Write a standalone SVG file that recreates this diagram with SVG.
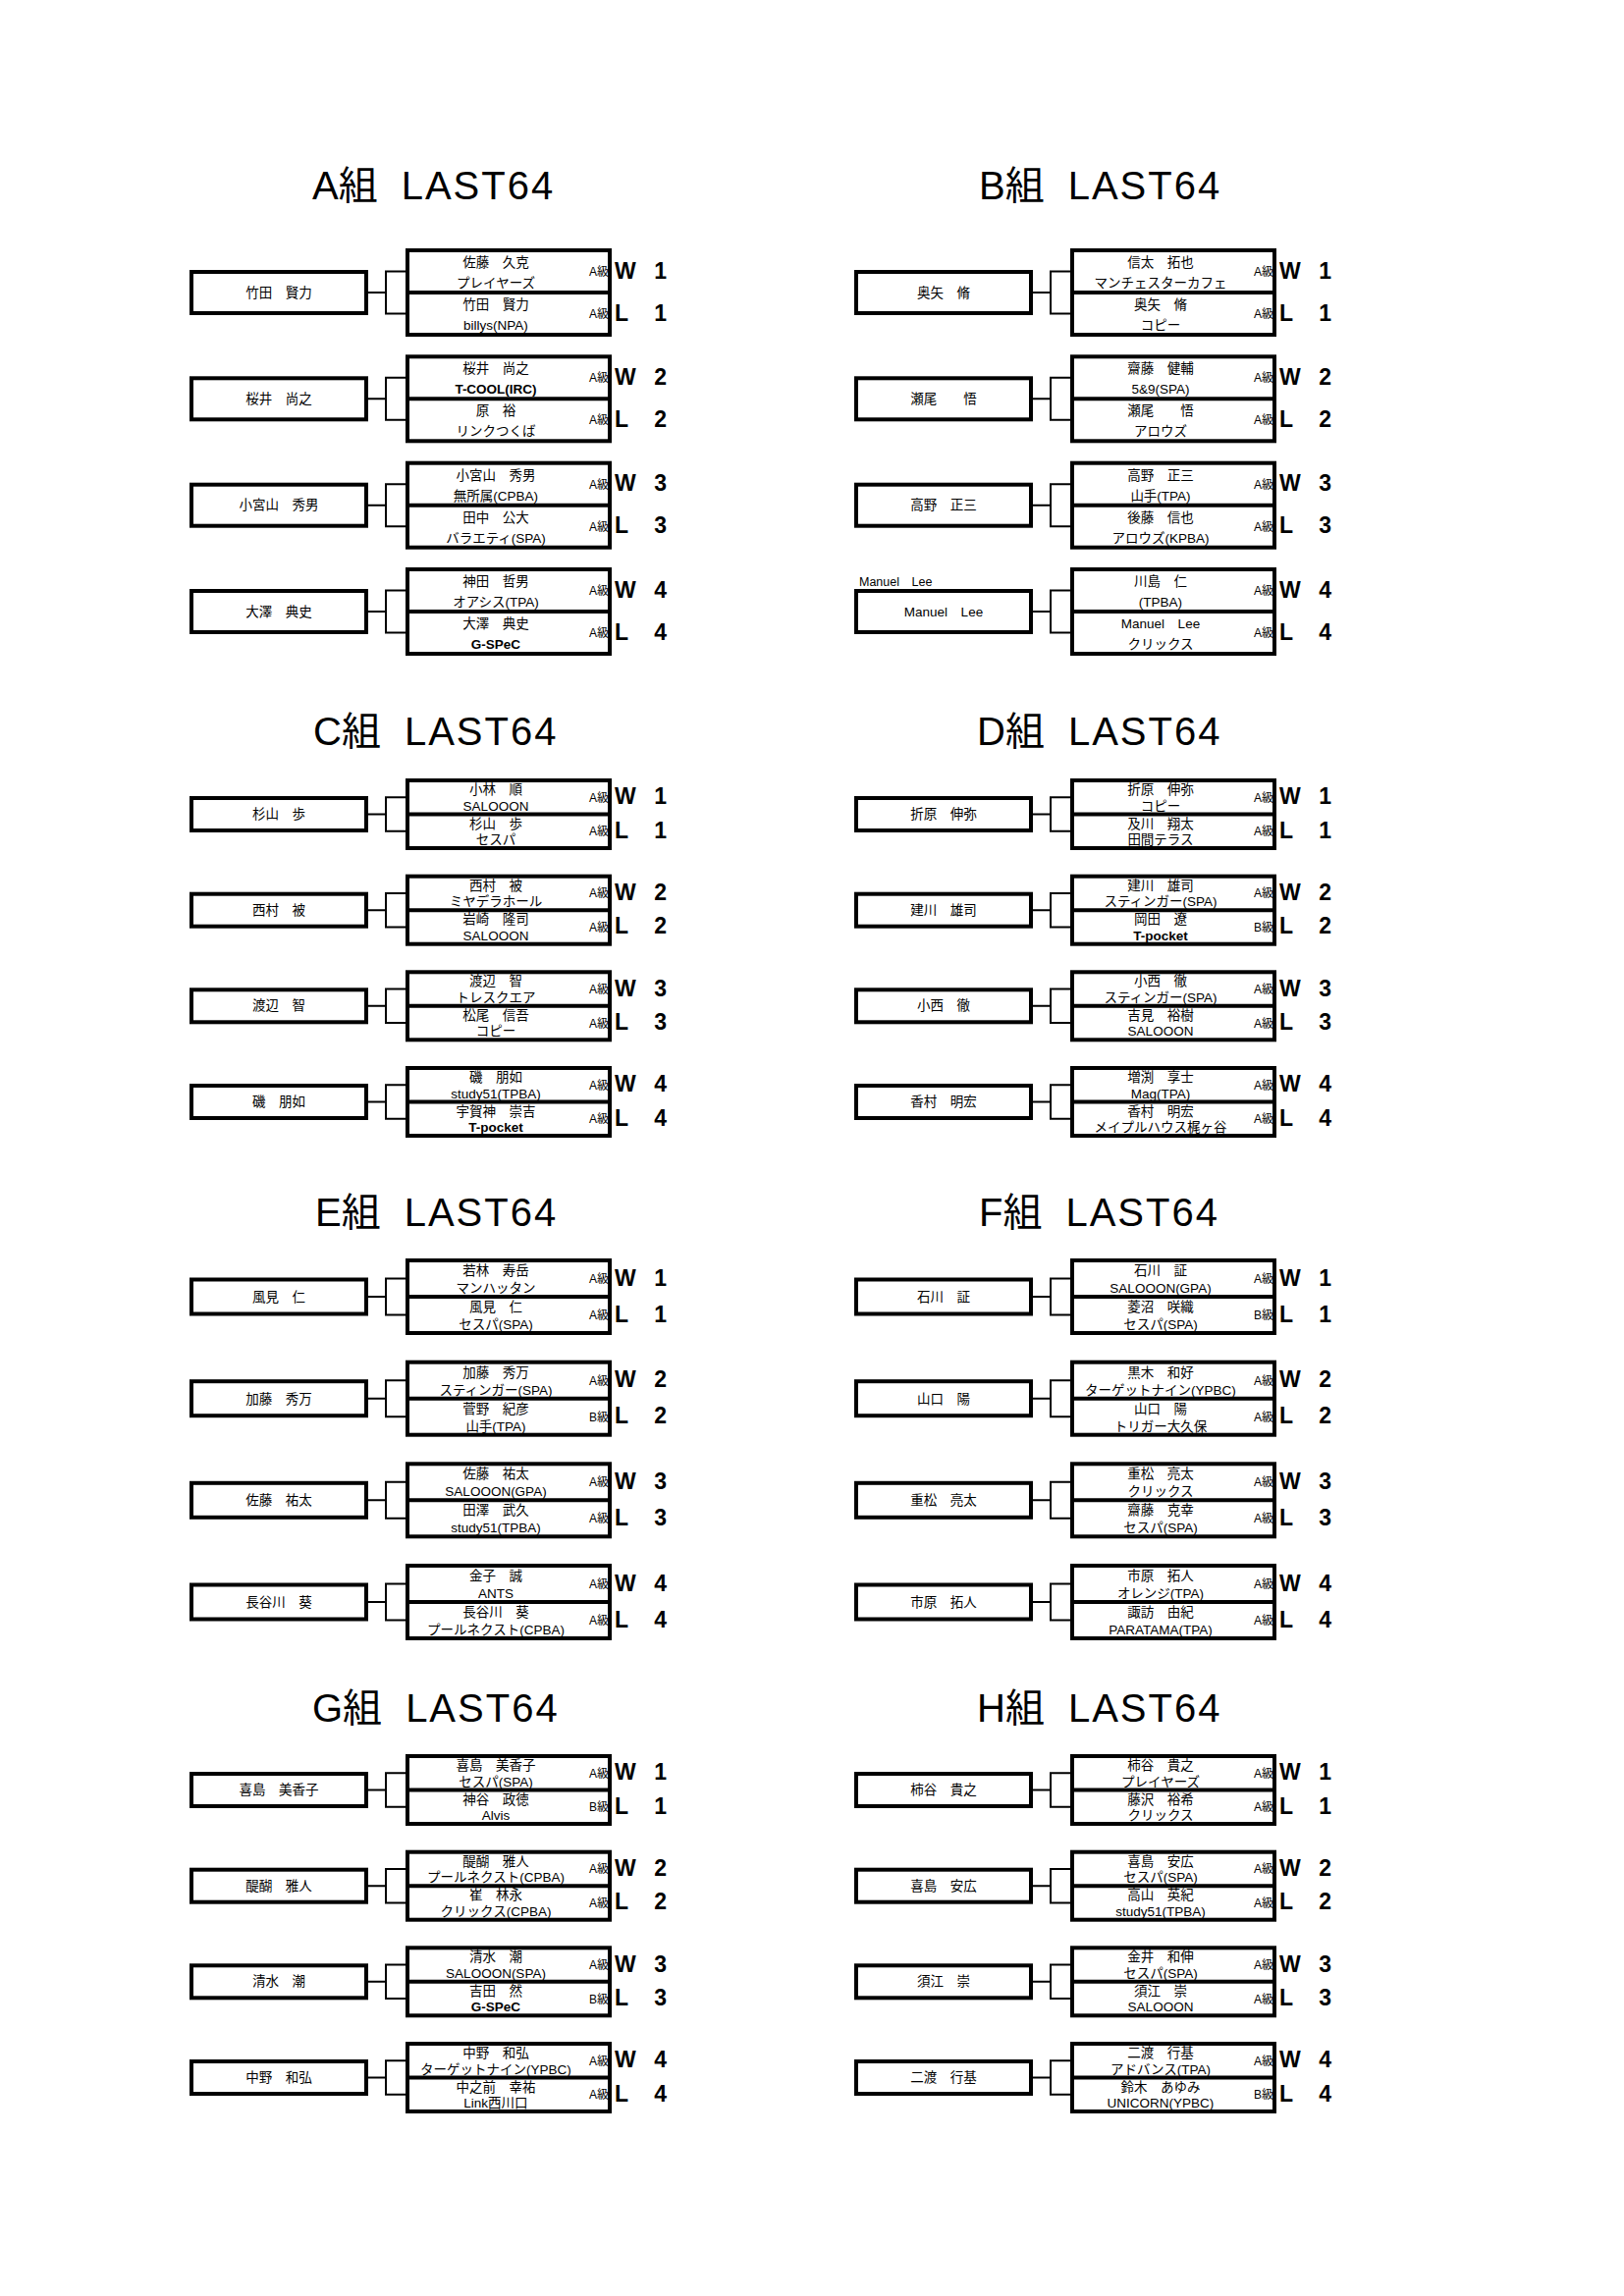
<svg xmlns="http://www.w3.org/2000/svg" width="1654" height="2339" viewBox="0 0 1654 2339">
<style>
.bx{fill:none;stroke:#000;stroke-width:4}
.cn{fill:none;stroke:#000;stroke-width:2}
text{font-family:"Liberation Sans","Noto Sans CJK JP",sans-serif;fill:#000}
.n{font-size:13.5px;text-anchor:middle}
.b{font-weight:bold}
.g{font-size:12px;text-anchor:end}
.w{font-size:23px;font-weight:bold}
.e{text-anchor:end}
.t{font-size:40px}
.sp{font-size:24px}
.ls{letter-spacing:2px}
.m{font-size:12.5px}
</style>
<defs>
<path id="cA" d="M375 43H393M413 21.5H393V64.5H413"/>
<path id="cC" d="M375 34.5H393M413 17.25H393V51.75H413"/>
<path id="cE" d="M375 37H393M413 18.5H393V55.5H413"/>
</defs>
<rect x="0" y="0" width="1654" height="2339" fill="#fff"/>

<g id="titles">
<text class="t" x="318" y="203">A組<tspan class="sp">　</tspan><tspan class="ls">LAST64</tspan></text>
<text class="t" x="997" y="203">B組<tspan class="sp">　</tspan><tspan class="ls">LAST64</tspan></text>
<text class="t" x="319" y="759">C組<tspan class="sp">　</tspan><tspan class="ls">LAST64</tspan></text>
<text class="t" x="995" y="759">D組<tspan class="sp">　</tspan><tspan class="ls">LAST64</tspan></text>
<text class="t" x="321" y="1249">E組<tspan class="sp">　</tspan><tspan class="ls">LAST64</tspan></text>
<text class="t" x="997" y="1249">F組<tspan class="sp">　</tspan><tspan class="ls">LAST64</tspan></text>
<text class="t" x="318" y="1754">G組<tspan class="sp">　</tspan><tspan class="ls">LAST64</tspan></text>
<text class="t" x="995" y="1754">H組<tspan class="sp">　</tspan><tspan class="ls">LAST64</tspan></text>
</g>

<g id="connectors" class="cn">
<use href="#cA" transform="translate(0,255)"/>
<use href="#cA" transform="translate(0,363.3)"/>
<use href="#cA" transform="translate(0,471.7)"/>
<use href="#cA" transform="translate(0,580)"/>
<use href="#cA" transform="translate(677,255)"/>
<use href="#cA" transform="translate(677,363.3)"/>
<use href="#cA" transform="translate(677,471.7)"/>
<use href="#cA" transform="translate(677,580)"/>
<use href="#cC" transform="translate(0,795)"/>
<use href="#cC" transform="translate(0,892.7)"/>
<use href="#cC" transform="translate(0,990.3)"/>
<use href="#cC" transform="translate(0,1088)"/>
<use href="#cC" transform="translate(677,795)"/>
<use href="#cC" transform="translate(677,892.7)"/>
<use href="#cC" transform="translate(677,990.3)"/>
<use href="#cC" transform="translate(677,1088)"/>
<use href="#cE" transform="translate(0,1284)"/>
<use href="#cE" transform="translate(0,1387.7)"/>
<use href="#cE" transform="translate(0,1491.3)"/>
<use href="#cE" transform="translate(0,1595)"/>
<use href="#cE" transform="translate(677,1284)"/>
<use href="#cE" transform="translate(677,1387.7)"/>
<use href="#cE" transform="translate(677,1491.3)"/>
<use href="#cE" transform="translate(677,1595)"/>
<use href="#cC" transform="translate(0,1789)"/>
<use href="#cC" transform="translate(0,1886.7)"/>
<use href="#cC" transform="translate(0,1984.3)"/>
<use href="#cC" transform="translate(0,2082)"/>
<use href="#cC" transform="translate(677,1789)"/>
<use href="#cC" transform="translate(677,1886.7)"/>
<use href="#cC" transform="translate(677,1984.3)"/>
<use href="#cC" transform="translate(677,2082)"/>
</g>

<!-- ===== A ===== -->
<g id="A1-player" transform="translate(0,255)"><text class="n" x="284" y="47.5">竹田　賢力</text><rect class="bx" x="195" y="22" width="178" height="42"/></g>
<g id="A1-match" transform="translate(0,255)">
<text class="n" x="505" y="17">佐藤　久克</text><text class="n" x="505" y="38">プレイヤーズ</text>
<text class="n" x="505" y="60">竹田　賢力</text><text class="n" x="505" y="81">billys(NPA)</text>
<text class="g" x="620" y="26">A級</text><text class="g" x="620" y="69">A級</text>
<text class="w" x="626" y="28.5">W</text><text class="w" x="626" y="71.5">L</text>
<text class="w e" x="679" y="28.5">1</text><text class="w e" x="679" y="71.5">1</text>
<rect class="bx" x="415" y="0" width="206" height="86"/><line class="bx" x1="415" y1="43" x2="621" y2="43"/></g>

<g id="A2-player" transform="translate(0,363.3)"><text class="n" x="284" y="47.5">桜井　尚之</text><rect class="bx" x="195" y="22" width="178" height="42"/></g>
<g id="A2-match" transform="translate(0,363.3)">
<text class="n" x="505" y="17">桜井　尚之</text><text class="n b" x="505" y="38">T-COOL(IRC)</text>
<text class="n" x="505" y="60">原　裕</text><text class="n" x="505" y="81">リンクつくば</text>
<text class="g" x="620" y="26">A級</text><text class="g" x="620" y="69">A級</text>
<text class="w" x="626" y="28.5">W</text><text class="w" x="626" y="71.5">L</text>
<text class="w e" x="679" y="28.5">2</text><text class="w e" x="679" y="71.5">2</text>
<rect class="bx" x="415" y="0" width="206" height="86"/><line class="bx" x1="415" y1="43" x2="621" y2="43"/></g>

<g id="A3-player" transform="translate(0,471.7)"><text class="n" x="284" y="47.5">小宮山　秀男</text><rect class="bx" x="195" y="22" width="178" height="42"/></g>
<g id="A3-match" transform="translate(0,471.7)">
<text class="n" x="505" y="17">小宮山　秀男</text><text class="n" x="505" y="38">無所属(CPBA)</text>
<text class="n" x="505" y="60">田中　公大</text><text class="n" x="505" y="81">バラエティ(SPA)</text>
<text class="g" x="620" y="26">A級</text><text class="g" x="620" y="69">A級</text>
<text class="w" x="626" y="28.5">W</text><text class="w" x="626" y="71.5">L</text>
<text class="w e" x="679" y="28.5">3</text><text class="w e" x="679" y="71.5">3</text>
<rect class="bx" x="415" y="0" width="206" height="86"/><line class="bx" x1="415" y1="43" x2="621" y2="43"/></g>

<g id="A4-player" transform="translate(0,580)"><text class="n" x="284" y="47.5">大澤　典史</text><rect class="bx" x="195" y="22" width="178" height="42"/></g>
<g id="A4-match" transform="translate(0,580)">
<text class="n" x="505" y="17">神田　哲男</text><text class="n" x="505" y="38">オアシス(TPA)</text>
<text class="n" x="505" y="60">大澤　典史</text><text class="n b" x="505" y="81">G-SPeC</text>
<text class="g" x="620" y="26">A級</text><text class="g" x="620" y="69">A級</text>
<text class="w" x="626" y="28.5">W</text><text class="w" x="626" y="71.5">L</text>
<text class="w e" x="679" y="28.5">4</text><text class="w e" x="679" y="71.5">4</text>
<rect class="bx" x="415" y="0" width="206" height="86"/><line class="bx" x1="415" y1="43" x2="621" y2="43"/></g>

<!-- ===== B ===== -->
<g id="B1-player" transform="translate(677,255)"><text class="n" x="284" y="47.5">奥矢　脩</text><rect class="bx" x="195" y="22" width="178" height="42"/></g>
<g id="B1-match" transform="translate(677,255)">
<text class="n" x="505" y="17">信太　拓也</text><text class="n" x="505" y="38">マンチェスターカフェ</text>
<text class="n" x="505" y="60">奥矢　脩</text><text class="n" x="505" y="81">コピー</text>
<text class="g" x="620" y="26">A級</text><text class="g" x="620" y="69">A級</text>
<text class="w" x="626" y="28.5">W</text><text class="w" x="626" y="71.5">L</text>
<text class="w e" x="679" y="28.5">1</text><text class="w e" x="679" y="71.5">1</text>
<rect class="bx" x="415" y="0" width="206" height="86"/><line class="bx" x1="415" y1="43" x2="621" y2="43"/></g>

<g id="B2-player" transform="translate(677,363.3)"><text class="n" x="284" y="47.5">瀬尾　　悟</text><rect class="bx" x="195" y="22" width="178" height="42"/></g>
<g id="B2-match" transform="translate(677,363.3)">
<text class="n" x="505" y="17">齋藤　健輔</text><text class="n" x="505" y="38">5&amp;9(SPA)</text>
<text class="n" x="505" y="60">瀬尾　　悟</text><text class="n" x="505" y="81">アロウズ</text>
<text class="g" x="620" y="26">A級</text><text class="g" x="620" y="69">A級</text>
<text class="w" x="626" y="28.5">W</text><text class="w" x="626" y="71.5">L</text>
<text class="w e" x="679" y="28.5">2</text><text class="w e" x="679" y="71.5">2</text>
<rect class="bx" x="415" y="0" width="206" height="86"/><line class="bx" x1="415" y1="43" x2="621" y2="43"/></g>

<g id="B3-player" transform="translate(677,471.7)"><text class="n" x="284" y="47.5">高野　正三</text><rect class="bx" x="195" y="22" width="178" height="42"/></g>
<g id="B3-match" transform="translate(677,471.7)">
<text class="n" x="505" y="17">高野　正三</text><text class="n" x="505" y="38">山手(TPA)</text>
<text class="n" x="505" y="60">後藤　信也</text><text class="n" x="505" y="81">アロウズ(KPBA)</text>
<text class="g" x="620" y="26">A級</text><text class="g" x="620" y="69">A級</text>
<text class="w" x="626" y="28.5">W</text><text class="w" x="626" y="71.5">L</text>
<text class="w e" x="679" y="28.5">3</text><text class="w e" x="679" y="71.5">3</text>
<rect class="bx" x="415" y="0" width="206" height="86"/><line class="bx" x1="415" y1="43" x2="621" y2="43"/></g>

<g id="B4-player" transform="translate(677,580)"><text class="m" x="198" y="17">Manuel　Lee</text><text class="n" x="284" y="47.5">Manuel　Lee</text><rect class="bx" x="195" y="22" width="178" height="42"/></g>
<g id="B4-match" transform="translate(677,580)">
<text class="n" x="505" y="17">川島　仁</text><text class="n" x="505" y="38">(TPBA)</text>
<text class="n" x="505" y="60">Manuel　Lee</text><text class="n" x="505" y="81">クリックス</text>
<text class="g" x="620" y="26">A級</text><text class="g" x="620" y="69">A級</text>
<text class="w" x="626" y="28.5">W</text><text class="w" x="626" y="71.5">L</text>
<text class="w e" x="679" y="28.5">4</text><text class="w e" x="679" y="71.5">4</text>
<rect class="bx" x="415" y="0" width="206" height="86"/><line class="bx" x1="415" y1="43" x2="621" y2="43"/></g>

<!-- ===== C ===== -->
<g id="C1-player" transform="translate(0,795)"><text class="n" x="284" y="39">杉山　歩</text><rect class="bx" x="195" y="18" width="178" height="33"/></g>
<g id="C1-match" transform="translate(0,795)">
<text class="n" x="505" y="14">小林　順</text><text class="n" x="505" y="30.5">SALOOON</text>
<text class="n" x="505" y="48.5">杉山　歩</text><text class="n" x="505" y="65">セスパ</text>
<text class="g" x="620" y="21.8">A級</text><text class="g" x="620" y="56.3">A級</text>
<text class="w" x="626" y="24.3">W</text><text class="w" x="626" y="58.8">L</text>
<text class="w e" x="679" y="24.3">1</text><text class="w e" x="679" y="58.8">1</text>
<rect class="bx" x="415" y="0" width="206" height="69"/><line class="bx" x1="415" y1="34.5" x2="621" y2="34.5"/></g>

<g id="C2-player" transform="translate(0,892.7)"><text class="n" x="284" y="39">西村　被</text><rect class="bx" x="195" y="18" width="178" height="33"/></g>
<g id="C2-match" transform="translate(0,892.7)">
<text class="n" x="505" y="14">西村　被</text><text class="n" x="505" y="30.5">ミヤデラホール</text>
<text class="n" x="505" y="48.5">岩崎　隆司</text><text class="n" x="505" y="65">SALOOON</text>
<text class="g" x="620" y="21.8">A級</text><text class="g" x="620" y="56.3">A級</text>
<text class="w" x="626" y="24.3">W</text><text class="w" x="626" y="58.8">L</text>
<text class="w e" x="679" y="24.3">2</text><text class="w e" x="679" y="58.8">2</text>
<rect class="bx" x="415" y="0" width="206" height="69"/><line class="bx" x1="415" y1="34.5" x2="621" y2="34.5"/></g>

<g id="C3-player" transform="translate(0,990.3)"><text class="n" x="284" y="39">渡辺　智</text><rect class="bx" x="195" y="18" width="178" height="33"/></g>
<g id="C3-match" transform="translate(0,990.3)">
<text class="n" x="505" y="14">渡辺　智</text><text class="n" x="505" y="30.5">トレスクエア</text>
<text class="n" x="505" y="48.5">松尾　信吾</text><text class="n" x="505" y="65">コピー</text>
<text class="g" x="620" y="21.8">A級</text><text class="g" x="620" y="56.3">A級</text>
<text class="w" x="626" y="24.3">W</text><text class="w" x="626" y="58.8">L</text>
<text class="w e" x="679" y="24.3">3</text><text class="w e" x="679" y="58.8">3</text>
<rect class="bx" x="415" y="0" width="206" height="69"/><line class="bx" x1="415" y1="34.5" x2="621" y2="34.5"/></g>

<g id="C4-player" transform="translate(0,1088)"><text class="n" x="284" y="39">磯　朋如</text><rect class="bx" x="195" y="18" width="178" height="33"/></g>
<g id="C4-match" transform="translate(0,1088)">
<text class="n" x="505" y="14">磯　朋如</text><text class="n" x="505" y="30.5">study51(TPBA)</text>
<text class="n" x="505" y="48.5">宇賀神　崇吉</text><text class="n b" x="505" y="65">T-pocket</text>
<text class="g" x="620" y="21.8">A級</text><text class="g" x="620" y="56.3">A級</text>
<text class="w" x="626" y="24.3">W</text><text class="w" x="626" y="58.8">L</text>
<text class="w e" x="679" y="24.3">4</text><text class="w e" x="679" y="58.8">4</text>
<rect class="bx" x="415" y="0" width="206" height="69"/><line class="bx" x1="415" y1="34.5" x2="621" y2="34.5"/></g>

<!-- ===== D ===== -->
<g id="D1-player" transform="translate(677,795)"><text class="n" x="284" y="39">折原　伸弥</text><rect class="bx" x="195" y="18" width="178" height="33"/></g>
<g id="D1-match" transform="translate(677,795)">
<text class="n" x="505" y="14">折原　伸弥</text><text class="n" x="505" y="30.5">コピー</text>
<text class="n" x="505" y="48.5">及川　翔太</text><text class="n" x="505" y="65">田間テラス</text>
<text class="g" x="620" y="21.8">A級</text><text class="g" x="620" y="56.3">A級</text>
<text class="w" x="626" y="24.3">W</text><text class="w" x="626" y="58.8">L</text>
<text class="w e" x="679" y="24.3">1</text><text class="w e" x="679" y="58.8">1</text>
<rect class="bx" x="415" y="0" width="206" height="69"/><line class="bx" x1="415" y1="34.5" x2="621" y2="34.5"/></g>

<g id="D2-player" transform="translate(677,892.7)"><text class="n" x="284" y="39">建川　雄司</text><rect class="bx" x="195" y="18" width="178" height="33"/></g>
<g id="D2-match" transform="translate(677,892.7)">
<text class="n" x="505" y="14">建川　雄司</text><text class="n" x="505" y="30.5">スティンガー(SPA)</text>
<text class="n" x="505" y="48.5">岡田　遼</text><text class="n b" x="505" y="65">T-pocket</text>
<text class="g" x="620" y="21.8">A級</text><text class="g" x="620" y="56.3">B級</text>
<text class="w" x="626" y="24.3">W</text><text class="w" x="626" y="58.8">L</text>
<text class="w e" x="679" y="24.3">2</text><text class="w e" x="679" y="58.8">2</text>
<rect class="bx" x="415" y="0" width="206" height="69"/><line class="bx" x1="415" y1="34.5" x2="621" y2="34.5"/></g>

<g id="D3-player" transform="translate(677,990.3)"><text class="n" x="284" y="39">小西　徹</text><rect class="bx" x="195" y="18" width="178" height="33"/></g>
<g id="D3-match" transform="translate(677,990.3)">
<text class="n" x="505" y="14">小西　徹</text><text class="n" x="505" y="30.5">スティンガー(SPA)</text>
<text class="n" x="505" y="48.5">吉見　裕樹</text><text class="n" x="505" y="65">SALOOON</text>
<text class="g" x="620" y="21.8">A級</text><text class="g" x="620" y="56.3">A級</text>
<text class="w" x="626" y="24.3">W</text><text class="w" x="626" y="58.8">L</text>
<text class="w e" x="679" y="24.3">3</text><text class="w e" x="679" y="58.8">3</text>
<rect class="bx" x="415" y="0" width="206" height="69"/><line class="bx" x1="415" y1="34.5" x2="621" y2="34.5"/></g>

<g id="D4-player" transform="translate(677,1088)"><text class="n" x="284" y="39">香村　明宏</text><rect class="bx" x="195" y="18" width="178" height="33"/></g>
<g id="D4-match" transform="translate(677,1088)">
<text class="n" x="505" y="14">増渕　享士</text><text class="n" x="505" y="30.5">Mag(TPA)</text>
<text class="n" x="505" y="48.5">香村　明宏</text><text class="n" x="505" y="65">メイプルハウス梶ヶ谷</text>
<text class="g" x="620" y="21.8">A級</text><text class="g" x="620" y="56.3">A級</text>
<text class="w" x="626" y="24.3">W</text><text class="w" x="626" y="58.8">L</text>
<text class="w e" x="679" y="24.3">4</text><text class="w e" x="679" y="58.8">4</text>
<rect class="bx" x="415" y="0" width="206" height="69"/><line class="bx" x1="415" y1="34.5" x2="621" y2="34.5"/></g>

<!-- ===== E ===== -->
<g id="E1-player" transform="translate(0,1284)"><text class="n" x="284" y="42">風見　仁</text><rect class="bx" x="195" y="19.5" width="178" height="35"/></g>
<g id="E1-match" transform="translate(0,1284)">
<text class="n" x="505" y="15">若林　寿岳</text><text class="n" x="505" y="33">マンハッタン</text>
<text class="n" x="505" y="52">風見　仁</text><text class="n" x="505" y="70">セスパ(SPA)</text>
<text class="g" x="620" y="23">A級</text><text class="g" x="620" y="60">A級</text>
<text class="w" x="626" y="25.5">W</text><text class="w" x="626" y="62.5">L</text>
<text class="w e" x="679" y="25.5">1</text><text class="w e" x="679" y="62.5">1</text>
<rect class="bx" x="415" y="0" width="206" height="74"/><line class="bx" x1="415" y1="37" x2="621" y2="37"/></g>

<g id="E2-player" transform="translate(0,1387.7)"><text class="n" x="284" y="42">加藤　秀万</text><rect class="bx" x="195" y="19.5" width="178" height="35"/></g>
<g id="E2-match" transform="translate(0,1387.7)">
<text class="n" x="505" y="15">加藤　秀万</text><text class="n" x="505" y="33">スティンガー(SPA)</text>
<text class="n" x="505" y="52">菅野　紀彦</text><text class="n" x="505" y="70">山手(TPA)</text>
<text class="g" x="620" y="23">A級</text><text class="g" x="620" y="60">B級</text>
<text class="w" x="626" y="25.5">W</text><text class="w" x="626" y="62.5">L</text>
<text class="w e" x="679" y="25.5">2</text><text class="w e" x="679" y="62.5">2</text>
<rect class="bx" x="415" y="0" width="206" height="74"/><line class="bx" x1="415" y1="37" x2="621" y2="37"/></g>

<g id="E3-player" transform="translate(0,1491.3)"><text class="n" x="284" y="42">佐藤　祐太</text><rect class="bx" x="195" y="19.5" width="178" height="35"/></g>
<g id="E3-match" transform="translate(0,1491.3)">
<text class="n" x="505" y="15">佐藤　祐太</text><text class="n" x="505" y="33">SALOOON(GPA)</text>
<text class="n" x="505" y="52">田澤　武久</text><text class="n" x="505" y="70">study51(TPBA)</text>
<text class="g" x="620" y="23">A級</text><text class="g" x="620" y="60">A級</text>
<text class="w" x="626" y="25.5">W</text><text class="w" x="626" y="62.5">L</text>
<text class="w e" x="679" y="25.5">3</text><text class="w e" x="679" y="62.5">3</text>
<rect class="bx" x="415" y="0" width="206" height="74"/><line class="bx" x1="415" y1="37" x2="621" y2="37"/></g>

<g id="E4-player" transform="translate(0,1595)"><text class="n" x="284" y="42">長谷川　葵</text><rect class="bx" x="195" y="19.5" width="178" height="35"/></g>
<g id="E4-match" transform="translate(0,1595)">
<text class="n" x="505" y="15">金子　誠</text><text class="n" x="505" y="33">ANTS</text>
<text class="n" x="505" y="52">長谷川　葵</text><text class="n" x="505" y="70">プールネクスト(CPBA)</text>
<text class="g" x="620" y="23">A級</text><text class="g" x="620" y="60">A級</text>
<text class="w" x="626" y="25.5">W</text><text class="w" x="626" y="62.5">L</text>
<text class="w e" x="679" y="25.5">4</text><text class="w e" x="679" y="62.5">4</text>
<rect class="bx" x="415" y="0" width="206" height="74"/><line class="bx" x1="415" y1="37" x2="621" y2="37"/></g>

<!-- ===== F ===== -->
<g id="F1-player" transform="translate(677,1284)"><text class="n" x="284" y="42">石川　証</text><rect class="bx" x="195" y="19.5" width="178" height="35"/></g>
<g id="F1-match" transform="translate(677,1284)">
<text class="n" x="505" y="15">石川　証</text><text class="n" x="505" y="33">SALOOON(GPA)</text>
<text class="n" x="505" y="52">菱沼　咲織</text><text class="n" x="505" y="70">セスパ(SPA)</text>
<text class="g" x="620" y="23">A級</text><text class="g" x="620" y="60">B級</text>
<text class="w" x="626" y="25.5">W</text><text class="w" x="626" y="62.5">L</text>
<text class="w e" x="679" y="25.5">1</text><text class="w e" x="679" y="62.5">1</text>
<rect class="bx" x="415" y="0" width="206" height="74"/><line class="bx" x1="415" y1="37" x2="621" y2="37"/></g>

<g id="F2-player" transform="translate(677,1387.7)"><text class="n" x="284" y="42">山口　陽</text><rect class="bx" x="195" y="19.5" width="178" height="35"/></g>
<g id="F2-match" transform="translate(677,1387.7)">
<text class="n" x="505" y="15">黒木　和好</text><text class="n" x="505" y="33">ターゲットナイン(YPBC)</text>
<text class="n" x="505" y="52">山口　陽</text><text class="n" x="505" y="70">トリガー大久保</text>
<text class="g" x="620" y="23">A級</text><text class="g" x="620" y="60">A級</text>
<text class="w" x="626" y="25.5">W</text><text class="w" x="626" y="62.5">L</text>
<text class="w e" x="679" y="25.5">2</text><text class="w e" x="679" y="62.5">2</text>
<rect class="bx" x="415" y="0" width="206" height="74"/><line class="bx" x1="415" y1="37" x2="621" y2="37"/></g>

<g id="F3-player" transform="translate(677,1491.3)"><text class="n" x="284" y="42">重松　亮太</text><rect class="bx" x="195" y="19.5" width="178" height="35"/></g>
<g id="F3-match" transform="translate(677,1491.3)">
<text class="n" x="505" y="15">重松　亮太</text><text class="n" x="505" y="33">クリックス</text>
<text class="n" x="505" y="52">齋藤　克幸</text><text class="n" x="505" y="70">セスパ(SPA)</text>
<text class="g" x="620" y="23">A級</text><text class="g" x="620" y="60">A級</text>
<text class="w" x="626" y="25.5">W</text><text class="w" x="626" y="62.5">L</text>
<text class="w e" x="679" y="25.5">3</text><text class="w e" x="679" y="62.5">3</text>
<rect class="bx" x="415" y="0" width="206" height="74"/><line class="bx" x1="415" y1="37" x2="621" y2="37"/></g>

<g id="F4-player" transform="translate(677,1595)"><text class="n" x="284" y="42">市原　拓人</text><rect class="bx" x="195" y="19.5" width="178" height="35"/></g>
<g id="F4-match" transform="translate(677,1595)">
<text class="n" x="505" y="15">市原　拓人</text><text class="n" x="505" y="33">オレンジ(TPA)</text>
<text class="n" x="505" y="52">諏訪　由紀</text><text class="n" x="505" y="70">PARATAMA(TPA)</text>
<text class="g" x="620" y="23">A級</text><text class="g" x="620" y="60">A級</text>
<text class="w" x="626" y="25.5">W</text><text class="w" x="626" y="62.5">L</text>
<text class="w e" x="679" y="25.5">4</text><text class="w e" x="679" y="62.5">4</text>
<rect class="bx" x="415" y="0" width="206" height="74"/><line class="bx" x1="415" y1="37" x2="621" y2="37"/></g>

<!-- ===== G ===== -->
<g id="G1-player" transform="translate(0,1789)"><text class="n" x="284" y="39">喜島　美香子</text><rect class="bx" x="195" y="18" width="178" height="33"/></g>
<g id="G1-match" transform="translate(0,1789)">
<text class="n" x="505" y="14">喜島　美香子</text><text class="n" x="505" y="30.5">セスパ(SPA)</text>
<text class="n" x="505" y="48.5">神谷　政徳</text><text class="n" x="505" y="65">Alvis</text>
<text class="g" x="620" y="21.8">A級</text><text class="g" x="620" y="56.3">B級</text>
<text class="w" x="626" y="24.3">W</text><text class="w" x="626" y="58.8">L</text>
<text class="w e" x="679" y="24.3">1</text><text class="w e" x="679" y="58.8">1</text>
<rect class="bx" x="415" y="0" width="206" height="69"/><line class="bx" x1="415" y1="34.5" x2="621" y2="34.5"/></g>

<g id="G2-player" transform="translate(0,1886.7)"><text class="n" x="284" y="39">醍醐　雅人</text><rect class="bx" x="195" y="18" width="178" height="33"/></g>
<g id="G2-match" transform="translate(0,1886.7)">
<text class="n" x="505" y="14">醍醐　雅人</text><text class="n" x="505" y="30.5">プールネクスト(CPBA)</text>
<text class="n" x="505" y="48.5">崔　林永</text><text class="n" x="505" y="65">クリックス(CPBA)</text>
<text class="g" x="620" y="21.8">A級</text><text class="g" x="620" y="56.3">A級</text>
<text class="w" x="626" y="24.3">W</text><text class="w" x="626" y="58.8">L</text>
<text class="w e" x="679" y="24.3">2</text><text class="w e" x="679" y="58.8">2</text>
<rect class="bx" x="415" y="0" width="206" height="69"/><line class="bx" x1="415" y1="34.5" x2="621" y2="34.5"/></g>

<g id="G3-player" transform="translate(0,1984.3)"><text class="n" x="284" y="39">清水　潮</text><rect class="bx" x="195" y="18" width="178" height="33"/></g>
<g id="G3-match" transform="translate(0,1984.3)">
<text class="n" x="505" y="14">清水　潮</text><text class="n" x="505" y="30.5">SALOOON(SPA)</text>
<text class="n" x="505" y="48.5">吉田　然</text><text class="n b" x="505" y="65">G-SPeC</text>
<text class="g" x="620" y="21.8">A級</text><text class="g" x="620" y="56.3">B級</text>
<text class="w" x="626" y="24.3">W</text><text class="w" x="626" y="58.8">L</text>
<text class="w e" x="679" y="24.3">3</text><text class="w e" x="679" y="58.8">3</text>
<rect class="bx" x="415" y="0" width="206" height="69"/><line class="bx" x1="415" y1="34.5" x2="621" y2="34.5"/></g>

<g id="G4-player" transform="translate(0,2082)"><text class="n" x="284" y="39">中野　和弘</text><rect class="bx" x="195" y="18" width="178" height="33"/></g>
<g id="G4-match" transform="translate(0,2082)">
<text class="n" x="505" y="14">中野　和弘</text><text class="n" x="505" y="30.5">ターゲットナイン(YPBC)</text>
<text class="n" x="505" y="48.5">中之前　幸祐</text><text class="n" x="505" y="65">Link西川口</text>
<text class="g" x="620" y="21.8">A級</text><text class="g" x="620" y="56.3">A級</text>
<text class="w" x="626" y="24.3">W</text><text class="w" x="626" y="58.8">L</text>
<text class="w e" x="679" y="24.3">4</text><text class="w e" x="679" y="58.8">4</text>
<rect class="bx" x="415" y="0" width="206" height="69"/><line class="bx" x1="415" y1="34.5" x2="621" y2="34.5"/></g>

<!-- ===== H ===== -->
<g id="H1-player" transform="translate(677,1789)"><text class="n" x="284" y="39">柿谷　貴之</text><rect class="bx" x="195" y="18" width="178" height="33"/></g>
<g id="H1-match" transform="translate(677,1789)">
<text class="n" x="505" y="14">柿谷　貴之</text><text class="n" x="505" y="30.5">プレイヤーズ</text>
<text class="n" x="505" y="48.5">藤沢　裕希</text><text class="n" x="505" y="65">クリックス</text>
<text class="g" x="620" y="21.8">A級</text><text class="g" x="620" y="56.3">A級</text>
<text class="w" x="626" y="24.3">W</text><text class="w" x="626" y="58.8">L</text>
<text class="w e" x="679" y="24.3">1</text><text class="w e" x="679" y="58.8">1</text>
<rect class="bx" x="415" y="0" width="206" height="69"/><line class="bx" x1="415" y1="34.5" x2="621" y2="34.5"/></g>

<g id="H2-player" transform="translate(677,1886.7)"><text class="n" x="284" y="39">喜島　安広</text><rect class="bx" x="195" y="18" width="178" height="33"/></g>
<g id="H2-match" transform="translate(677,1886.7)">
<text class="n" x="505" y="14">喜島　安広</text><text class="n" x="505" y="30.5">セスパ(SPA)</text>
<text class="n" x="505" y="48.5">高山　英紀</text><text class="n" x="505" y="65">study51(TPBA)</text>
<text class="g" x="620" y="21.8">A級</text><text class="g" x="620" y="56.3">A級</text>
<text class="w" x="626" y="24.3">W</text><text class="w" x="626" y="58.8">L</text>
<text class="w e" x="679" y="24.3">2</text><text class="w e" x="679" y="58.8">2</text>
<rect class="bx" x="415" y="0" width="206" height="69"/><line class="bx" x1="415" y1="34.5" x2="621" y2="34.5"/></g>

<g id="H3-player" transform="translate(677,1984.3)"><text class="n" x="284" y="39">須江　崇</text><rect class="bx" x="195" y="18" width="178" height="33"/></g>
<g id="H3-match" transform="translate(677,1984.3)">
<text class="n" x="505" y="14">金井　和伸</text><text class="n" x="505" y="30.5">セスパ(SPA)</text>
<text class="n" x="505" y="48.5">須江　崇</text><text class="n" x="505" y="65">SALOOON</text>
<text class="g" x="620" y="21.8">A級</text><text class="g" x="620" y="56.3">A級</text>
<text class="w" x="626" y="24.3">W</text><text class="w" x="626" y="58.8">L</text>
<text class="w e" x="679" y="24.3">3</text><text class="w e" x="679" y="58.8">3</text>
<rect class="bx" x="415" y="0" width="206" height="69"/><line class="bx" x1="415" y1="34.5" x2="621" y2="34.5"/></g>

<g id="H4-player" transform="translate(677,2082)"><text class="n" x="284" y="39">二渡　行基</text><rect class="bx" x="195" y="18" width="178" height="33"/></g>
<g id="H4-match" transform="translate(677,2082)">
<text class="n" x="505" y="14">二渡　行基</text><text class="n" x="505" y="30.5">アドバンス(TPA)</text>
<text class="n" x="505" y="48.5">鈴木　あゆみ</text><text class="n" x="505" y="65">UNICORN(YPBC)</text>
<text class="g" x="620" y="21.8">A級</text><text class="g" x="620" y="56.3">B級</text>
<text class="w" x="626" y="24.3">W</text><text class="w" x="626" y="58.8">L</text>
<text class="w e" x="679" y="24.3">4</text><text class="w e" x="679" y="58.8">4</text>
<rect class="bx" x="415" y="0" width="206" height="69"/><line class="bx" x1="415" y1="34.5" x2="621" y2="34.5"/></g>
</svg>
